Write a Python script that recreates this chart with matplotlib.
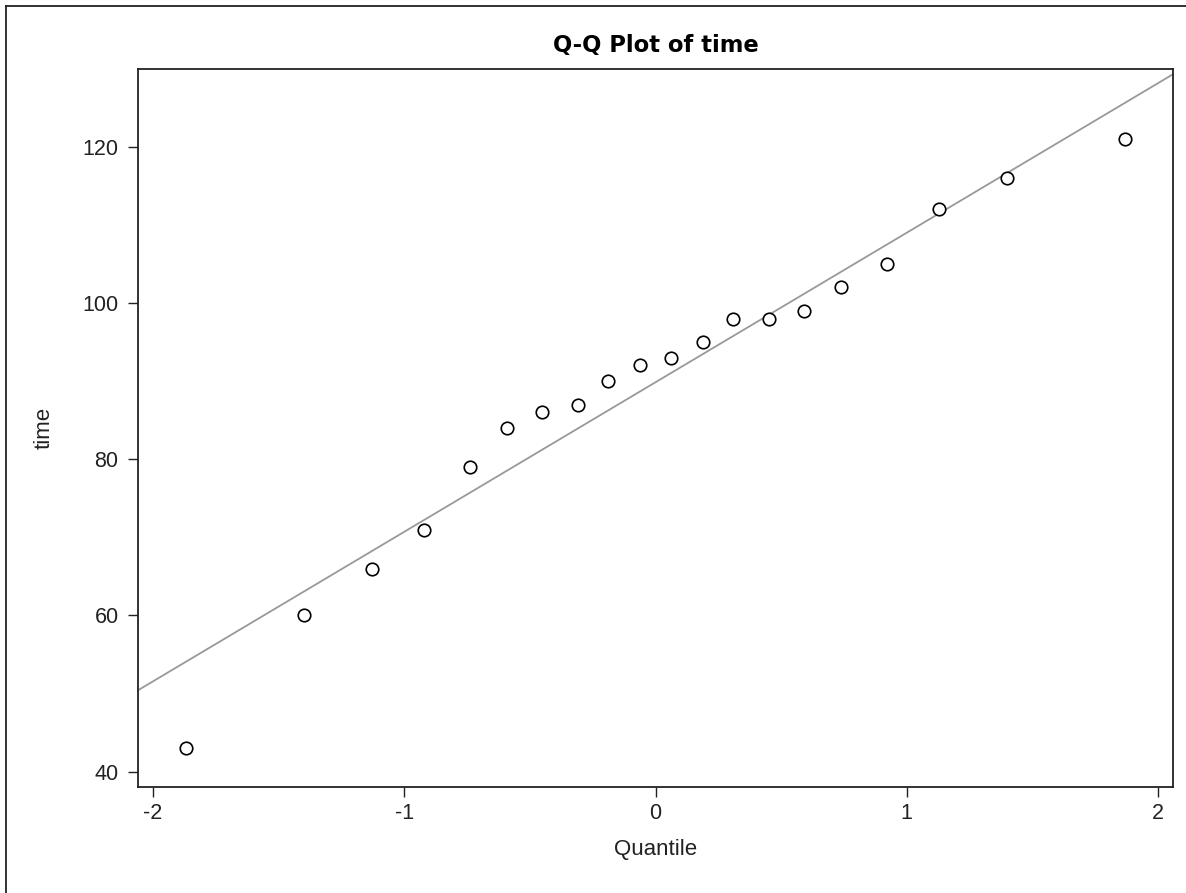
import numpy as np
import matplotlib
matplotlib.use("Agg")
import matplotlib.pyplot as plt
from matplotlib.lines import Line2D

# --- data ---
quantiles = [-1.87, -1.40, -1.13, -0.92, -0.74, -0.59, -0.45, -0.31, -0.19, -0.06,
             0.06, 0.19, 0.31, 0.45, 0.59, 0.74, 0.92, 1.13, 1.40, 1.87]
times = [43, 60, 66, 71, 79, 84, 86, 87, 90, 92,
         93, 95, 98, 98, 99, 102, 105, 112, 116, 121]
ref_mu = 89.85      # reference line intercept
ref_sigma = 19.14   # reference line slope

x_ticks = [-2, -1, 0, 1, 2]
y_ticks = [40, 60, 80, 100, 120]

plt.rcParams['font.family'] = ['Liberation Sans', 'DejaVu Sans']
plt.rcParams['axes.unicode_minus'] = False

W, H = 1186, 893
fig = plt.figure(figsize=(W / 100, H / 100), dpi=100)

# axes box in pixels: left 138, right 1173, top 69, bottom 787
ax = fig.add_axes([138 / W, 1 - 787 / H, (1173 - 138) / W, (787 - 69) / H])

xlim = (-2.06, 2.06)
ax.set_xlim(*xlim)
ax.set_ylim(38.04, 129.95)

# reference line
xs = np.array(xlim)
ax.plot(xs, ref_mu + ref_sigma * xs, color='#999999', linewidth=1.3, zorder=2)

# points
ax.plot(quantiles, times, linestyle='none', marker='o', markersize=9,
        markerfacecolor='white', markeredgecolor='black', markeredgewidth=1.2, zorder=3)

ax.set_xticks(x_ticks)
ax.set_yticks(y_ticks)
ax.tick_params(direction='out', length=7.5, width=1.0, color='#222222',
               labelsize=15.5, labelcolor='#222222')
ax.tick_params(axis='x', pad=4)
ax.tick_params(axis='y', pad=6.5)
for s in ax.spines.values():
    s.set_linewidth(1.3)
    s.set_color('#222222')

ax.set_xlabel("Quantile", fontsize=16, color='#222222', labelpad=11)
ax.set_ylabel("time", fontsize=16, color='#222222', labelpad=20)
ax.set_title("Q-Q Plot of time", fontsize=16.3, fontweight='bold',
             family=['DejaVu Sans'], pad=12)

# outer border (left and top visible, rest runs off the image)
fig.add_artist(Line2D([6 / W, 6 / W], [0, 1 - 6 / H], transform=fig.transFigure,
                      color='#222222', linewidth=1.3))
fig.add_artist(Line2D([6 / W, 1], [1 - 6 / H, 1 - 6 / H], transform=fig.transFigure,
                      color='#222222', linewidth=1.3))

fig.savefig("out.png", dpi=100)
